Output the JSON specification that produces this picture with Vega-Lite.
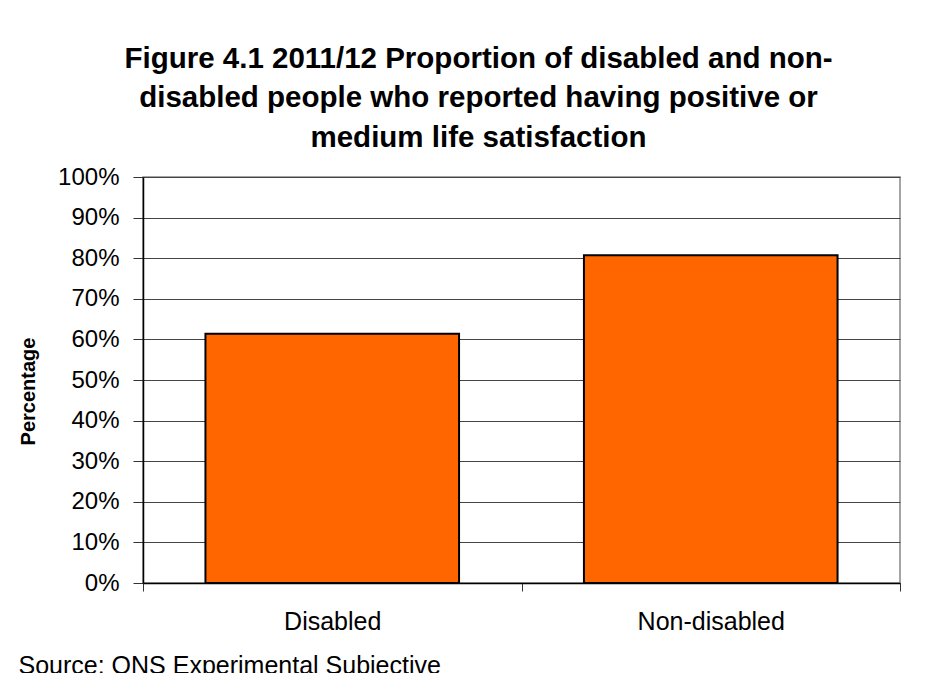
{
  "$schema": "https://vega.github.io/schema/vega-lite/v6.json",
  "autosize": {"type": "none"},
  "padding": {"left": 143, "top": 177, "right": 40, "bottom": 90},
  "width": 757,
  "height": 406,
  "background": "white",
  "title": {
    "text": ["Figure 4.1 2011/12 Proportion of disabled and non-", "disabled people who reported having positive or", "medium life satisfaction"],
    "font": "Liberation Sans",
    "fontSize": 29.5,
    "fontWeight": "bold",
    "lineHeight": 39.5,
    "color": "black",
    "anchor": "middle",
    "frame": "group",
    "dx": -43,
    "offset": 12
  },
  "config": {
    "view": {"stroke": "#888888", "strokeWidth": 1.5},
    "font": "Liberation Sans"
  },
  "data": {
    "values": [
      {"group": "Disabled", "value": 0.614},
      {"group": "Non-disabled", "value": 0.807}
    ]
  },
  "mark": {"type": "bar", "fill": "#FF6600", "stroke": "black", "strokeWidth": 2, "width": {"band": 0.67}},
  "encoding": {
    "x": {
      "field": "group",
      "type": "nominal",
      "sort": null,
      "scale": {"paddingInner": 0, "paddingOuter": 0},
      "axis": {
        "title": "Source: ONS Experimental Subjective",
        "titleFont": "Liberation Sans",
        "titleFontSize": 25,
        "titleFontWeight": "normal",
        "titleColor": "black",
        "titleAnchor": "start",
        "titleAlign": "left",
        "titleBaseline": "alphabetic",
        "titleX": -125,
        "titleY": 90,
        "labelAngle": 0,
        "labelFont": "Liberation Sans",
        "labelFontSize": 25,
        "labelColor": "black",
        "labelPadding": 18,
        "tickBand": "extent",
        "tickSize": 8,
        "tickColor": "#333333",
        "domainColor": "black",
        "domainWidth": 1.5,
        "grid": false
      }
    },
    "y": {
      "field": "value",
      "type": "quantitative",
      "scale": {"domain": [0, 1], "nice": false},
      "axis": {
        "values": [0, 0.1, 0.2, 0.3, 0.4, 0.5, 0.6, 0.7, 0.8, 0.9, 1],
        "format": ".0%",
        "title": "Percentage",
        "titleFont": "Liberation Sans",
        "titleFontSize": 20,
        "titleFontWeight": "bold",
        "titleColor": "black",
        "titleAngle": -90,
        "titleAlign": "center",
        "titleBaseline": "middle",
        "titleX": -115,
        "titleY": 214,
        "labelFont": "Liberation Sans",
        "labelFontSize": 24,
        "labelColor": "black",
        "labelPadding": 14,
        "tickSize": 10,
        "tickColor": "#333333",
        "domainColor": "black",
        "domainWidth": 1.5,
        "grid": true,
        "gridColor": "#444444",
        "gridWidth": 1
      }
    }
  }
}
